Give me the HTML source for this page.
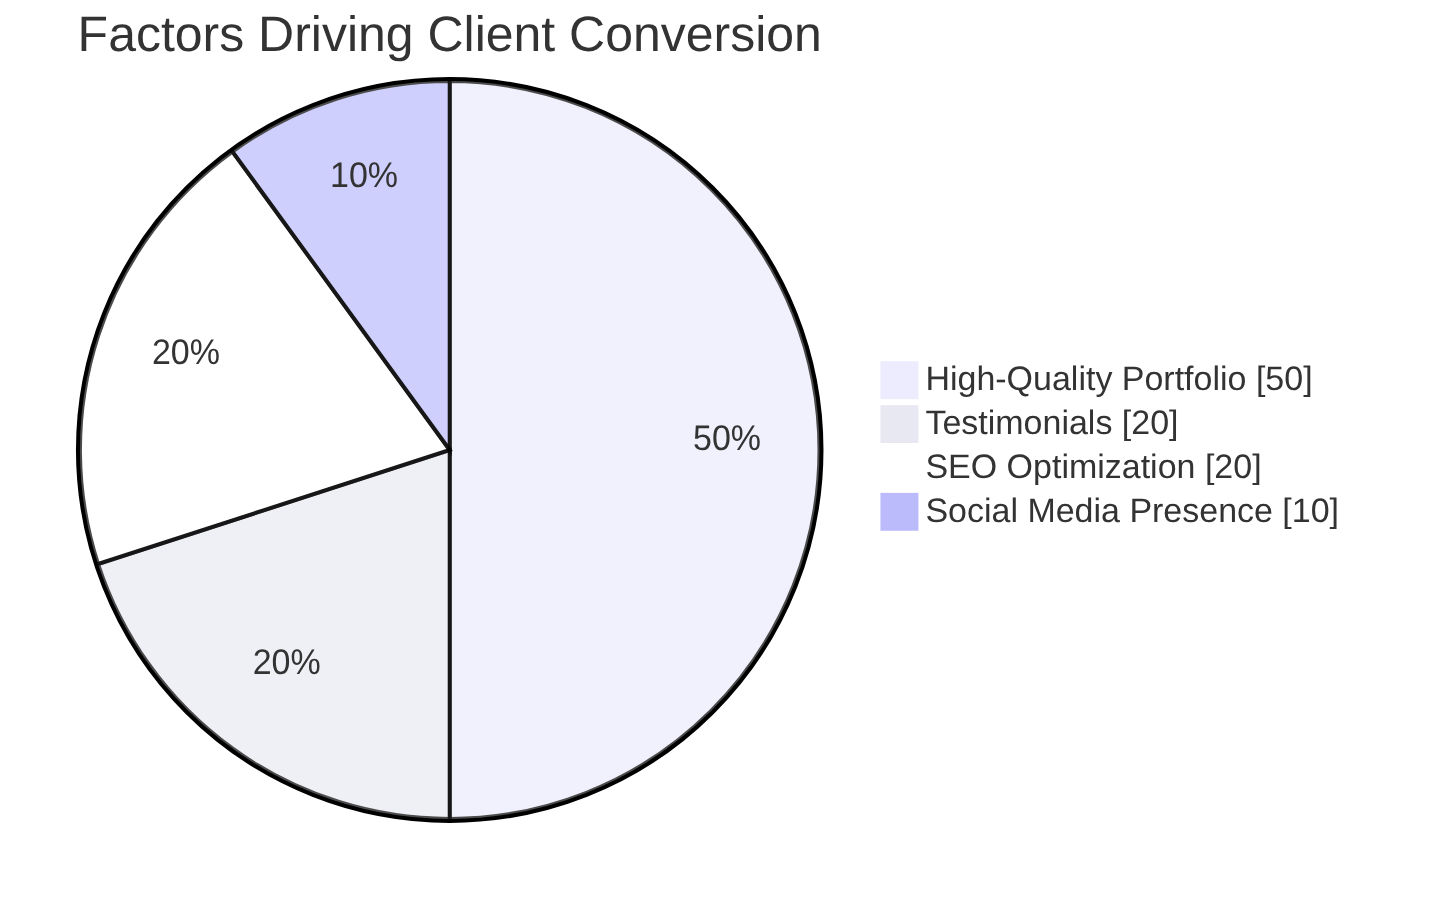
<!DOCTYPE html>
<html><head><meta charset="utf-8"><style>
html,body{margin:0;padding:0;background:#fff;overflow:hidden;}
svg{display:block;will-change:transform;text-rendering:geometricPrecision;}
.pieCircle{stroke:#000;stroke-width:2px;opacity:0.7;}
.pieOuterCircle{stroke:#000;stroke-width:2px;fill:none;}
.pieTitleText{text-anchor:middle;font-size:25px;fill:#333;font-family:"Liberation Sans",sans-serif;}
.slice{font-family:"Liberation Sans",sans-serif;fill:#333;font-size:17px;}
.legend text{fill:#333;font-family:"Liberation Sans",sans-serif;font-size:17px;}
</style></head><body>
<svg width="1437" height="900" viewBox="0 -0.655 718.953125 451.309" preserveAspectRatio="none">
<g transform="translate(225,225)">
<circle cx="0" cy="0" r="186" class="pieOuterCircle"/>
<path d="M0.0000,-185.0000A185,185,0,0,1,0.0000,185.0000L0,0Z" fill="#ECECFE" class="pieCircle"/><path d="M0.0000,185.0000A185,185,0,0,1,-175.9455,57.1681L0,0Z" fill="#E8E8F2" class="pieCircle"/><path d="M-175.9455,57.1681A185,185,0,0,1,-108.7403,-149.6681L0,0Z" fill="#FFFFFF" class="pieCircle"/><path d="M-108.7403,-149.6681A185,185,0,0,1,-0.0000,-185.0000L0,0Z" fill="#BBBBFC" class="pieCircle"/>
<text transform="translate(138.7500,0.0000) scale(1,1.05)" class="slice" text-anchor="middle">50%</text><text transform="translate(-81.5552,112.2511) scale(1,1.05)" class="slice" text-anchor="middle">20%</text><text transform="translate(-131.9591,-42.8761) scale(1,1.05)" class="slice" text-anchor="middle">20%</text><text transform="translate(-42.8761,-131.9591) scale(1,1.05)" class="slice" text-anchor="middle">10%</text>
<text x="0" y="-200" class="pieTitleText">Factors Driving Client Conversion</text>
<g class="legend" transform="translate(216,-44)"><rect width="18" height="18" style="fill:#ECECFE;stroke:#ECECFE"/><text x="22" y="14">High-Quality Portfolio [50]</text></g><g class="legend" transform="translate(216,-22)"><rect width="18" height="18" style="fill:#E8E8F2;stroke:#E8E8F2"/><text x="22" y="14">Testimonials [20]</text></g><g class="legend" transform="translate(216,0)"><rect width="18" height="18" style="fill:#FFFFFF;stroke:#FFFFFF"/><text x="22" y="14">SEO Optimization [20]</text></g><g class="legend" transform="translate(216,22)"><rect width="18" height="18" style="fill:#BBBBFC;stroke:#BBBBFC"/><text x="22" y="14">Social Media Presence [10]</text></g>
</g></svg>
</body></html>
